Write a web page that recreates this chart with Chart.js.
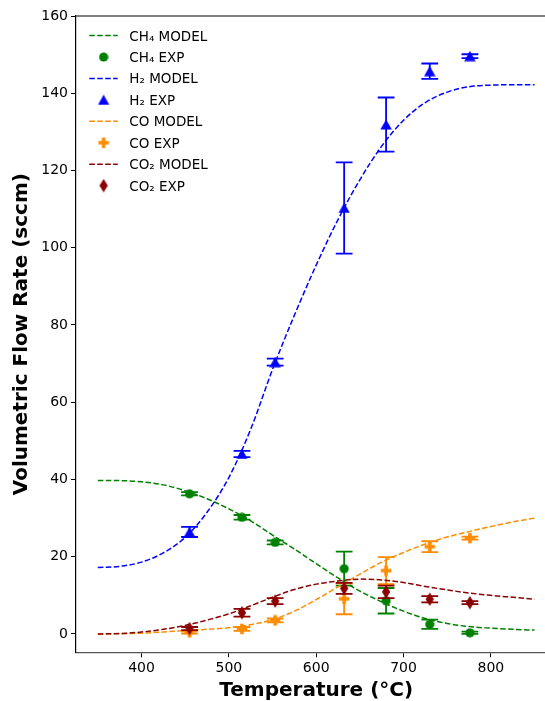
<!DOCTYPE html>
<html>
<head>
<meta charset="utf-8">
<script src="https://cdn.jsdelivr.net/npm/chart.js@4.4.0/dist/chart.umd.min.js"></script>
<style>
  html, body { margin: 0; padding: 0; background: #fff; overflow: hidden; }
  #wrap { position: relative; width: 570px; height: 701px; }
</style>
</head>
<body>
<div id="wrap"><canvas id="chart"></canvas></div>
<script>
// model curves (temperature in °C)
const modelTemps = [350, 375, 400, 425, 450, 475, 500, 525, 550, 575, 600, 625, 650, 675, 700, 725, 750, 775, 800, 825, 850];
const ch4Model = [39.7, 39.7, 39.4, 38.6, 37.1, 35.0, 32.4, 29.3, 25.6, 22.0, 18.2, 14.5, 11.1, 8.3, 5.9, 4.0, 2.7, 1.9, 1.5, 1.2, 1.0];
const h2Model  = [17.2, 17.5, 18.6, 21.0, 25.0, 31.5, 40.5, 53.0, 68.5, 82.5, 95.5, 107.3, 117.6, 126.3, 133.0, 137.6, 140.3, 141.7, 142.1, 142.2, 142.2];
const coModel  = [0.0, 0.05, 0.2, 0.5, 0.9, 1.2, 1.6, 2.4, 3.7, 5.9, 8.9, 12.2, 15.5, 18.6, 21.1, 23.3, 25.1, 26.5, 27.8, 29.0, 30.0];
const co2Model = [0.0, 0.1, 0.5, 1.2, 2.2, 3.6, 5.2, 7.3, 9.5, 11.5, 12.9, 13.7, 14.2, 14.0, 13.3, 12.3, 11.4, 10.6, 10.0, 9.5, 9.0];

// experimental points
const expTemps = [455, 515, 553, 632, 680, 730, 776];
const ch4Exp = [36.3, 30.2, 23.7, 16.9, 8.6, 2.5, 0.3];
const ch4Err = [0.4, 0.6, 0.5, 4.4, 3.3, 1.2, 0.3];
const h2Exp  = [26.4, 46.6, 70.4, 110.3, 131.9, 145.7, 149.6];
const h2Err  = [1.3, 0.8, 0.9, 11.8, 7.0, 2.0, 0.5];
const coExp  = [0.4, 1.3, 3.5, 9.1, 16.4, 22.6, 24.8];
const coErr  = [0.3, 0.5, 0.5, 4.0, 3.5, 1.4, 0.4];
const co2Exp = [1.4, 5.5, 8.5, 11.8, 10.9, 9.0, 8.1];
const co2Err = [0.4, 1.0, 0.8, 1.4, 1.6, 0.8, 0.4];

const xTicks = [400, 500, 600, 700, 800];
const yTicks = [0, 20, 40, 60, 80, 100, 120, 140, 160];

const GREEN = '#008000', BLUE = '#0000ff', ORANGE = '#ff8c00', DARKRED = '#8b0000';

// marker images
function marker(shape, color) {
    const c = document.createElement('canvas');
    const sizes = { circle: [10, 10], triangle: [12, 11], plus: [12, 12], diamond: [10, 14] };
    c.width = sizes[shape][0];
    c.height = sizes[shape][1];
    const g = c.getContext('2d');
    const w = c.width, h = c.height;
    g.fillStyle = color;
    g.beginPath();
    if (shape === 'circle') {
        g.arc(w / 2, h / 2, 4.6, 0, Math.PI * 2);
    } else if (shape === 'triangle') {
        g.moveTo(w / 2, 0.3);
        g.lineTo(w - 0.3, h - 0.5);
        g.lineTo(0.3, h - 0.5);
    } else if (shape === 'plus') {
        const a = 0.8, b = 4.2, d = 7.8, e = 11.2;
        g.moveTo(b, a); g.lineTo(d, a); g.lineTo(d, b); g.lineTo(e, b); g.lineTo(e, d);
        g.lineTo(d, d); g.lineTo(d, e); g.lineTo(b, e); g.lineTo(b, d); g.lineTo(a, d);
        g.lineTo(a, b); g.lineTo(b, b);
    } else if (shape === 'diamond') {
        g.moveTo(w / 2, 0.2);
        g.lineTo(w - 0.8, h / 2);
        g.lineTo(w / 2, h - 0.2);
        g.lineTo(0.8, h / 2);
    }
    g.closePath();
    g.fill();
    return c;
}

const pts = (xs, ys) => xs.map((x, i) => ({ x: x, y: ys[i] }));

function modelSet(label, ys, color) {
    return {
        label: label, data: pts(modelTemps, ys), showLine: true,
        borderColor: color, borderWidth: 1.5, borderDash: [5.55, 2.4],
        pointRadius: 0, cubicInterpolationMode: 'monotone', fill: false
    };
}
function expSet(label, ys, errs, color, shape) {
    return {
        label: label, data: pts(expTemps, ys), errs: errs, showLine: false,
        borderColor: color, backgroundColor: color,
        pointStyle: marker(shape, color), pointRadius: 5
    };
}

const datasets = [
    modelSet('CH₄ MODEL', ch4Model, GREEN),
    expSet('CH₄ EXP', ch4Exp, ch4Err, GREEN, 'circle'),
    modelSet('H₂ MODEL', h2Model, BLUE),
    expSet('H₂ EXP', h2Exp, h2Err, BLUE, 'triangle'),
    modelSet('CO MODEL', coModel, ORANGE),
    expSet('CO EXP', coExp, coErr, ORANGE, 'plus'),
    modelSet('CO₂ MODEL', co2Model, DARKRED),
    expSet('CO₂ EXP', co2Exp, co2Err, DARKRED, 'diamond')
];
// later datasets on top, like the original plot
datasets.forEach((d, i) => { d.order = datasets.length - i; });

// vertical error bars with caps, drawn just before their markers
const errorBars = {
    id: 'errorBars',
    beforeDatasetDraw(chart, args) {
        const ds = chart.data.datasets[args.index];
        if (!ds.errs) return;
        const { ctx, scales: { x, y } } = chart;
        ctx.save();
        ctx.strokeStyle = ds.borderColor;
        ctx.lineWidth = 1.8;
        ds.data.forEach((p, i) => {
            const px = x.getPixelForValue(p.x);
            const top = y.getPixelForValue(p.y + ds.errs[i]);
            const bot = y.getPixelForValue(p.y - ds.errs[i]);
            ctx.beginPath();
            ctx.moveTo(px, top); ctx.lineTo(px, bot);
            ctx.moveTo(px - 8.4, top); ctx.lineTo(px + 8.4, top);
            ctx.moveTo(px - 8.4, bot); ctx.lineTo(px + 8.4, bot);
            ctx.stroke();
        });
        ctx.restore();
    }
};

// top spine + legend inside the plot
const frameAndLegend = {
    id: 'frameAndLegend',
    afterDraw(chart) {
        const { ctx, chartArea } = chart;
        ctx.save();
        ctx.strokeStyle = '#555';
        ctx.lineWidth = 1.3;
        ctx.beginPath();
        ctx.moveTo(chartArea.left, chartArea.top);
        ctx.lineTo(chartArea.right, chartArea.top);
        ctx.stroke();

        ctx.font = '13.5px "DejaVu Sans"';
        ctx.textBaseline = 'alphabetic';
        chart.data.datasets.forEach((ds, i) => {
            const cy = 35.6 + i * 21.43;
            if (ds.showLine) {
                ctx.strokeStyle = ds.borderColor;
                ctx.lineWidth = 1.5;
                ctx.setLineDash([5.55, 2.4]);
                ctx.beginPath();
                ctx.moveTo(89.3, cy);
                ctx.lineTo(117.7, cy);
                ctx.stroke();
                ctx.setLineDash([]);
            } else {
                const img = ds.pointStyle;
                ctx.drawImage(img, 103.6 - img.width / 2, cy - img.height / 2);
            }
            ctx.fillStyle = '#000';
            ctx.fillText(ds.label, 129.3, cy + 4.9);
        });
        ctx.restore();
    }
};

Chart.defaults.font.family = '"DejaVu Sans"';
Chart.defaults.color = '#000';

new Chart(document.getElementById('chart'), {
    type: 'scatter',
    data: { datasets: datasets },
    plugins: [errorBars, frameAndLegend],
    options: {
        responsive: true,
        maintainAspectRatio: false,
        animation: false,
        layout: { autoPadding: false, padding: { left: 0, top: 16, right: 13.6, bottom: 0 } },
        plugins: { legend: { display: false }, tooltip: { enabled: false } },
        scales: {
            x: {
                type: 'linear', min: 325, max: 875,
                afterBuildTicks: s => { s.ticks = xTicks.map(v => ({ value: v })); },
                afterFit: s => { s.height = 48.7; },
                ticks: { font: { size: 14 }, padding: 3, maxRotation: 0, autoSkip: false },
                grid: { drawOnChartArea: false, tickLength: 5, tickColor: '#000', tickWidth: 1 },
                border: { color: '#555', width: 1.3 },
                title: {
                    display: true, text: 'Temperature (°C)',
                    font: { size: 20, weight: 'bold', lineHeight: 1 },
                    padding: { top: 0, bottom: 0.5 }
                }
            },
            y: {
                type: 'linear', min: -4.75, max: 160,
                afterBuildTicks: s => { s.ticks = yTicks.map(v => ({ value: v })); },
                afterFit: s => { s.width = 76; },
                ticks: { font: { size: 14 }, padding: 3, autoSkip: false },
                grid: { drawOnChartArea: false, tickLength: 5, tickColor: '#000', tickWidth: 1 },
                border: { color: '#000', width: 1.2 },
                title: {
                    display: true, text: 'Volumetric Flow Rate (sccm)',
                    font: { size: 20, weight: 'bold', lineHeight: 1 },
                    padding: { top: 12, bottom: 0 }
                }
            }
        }
    }
});
</script>
</body>
</html>
